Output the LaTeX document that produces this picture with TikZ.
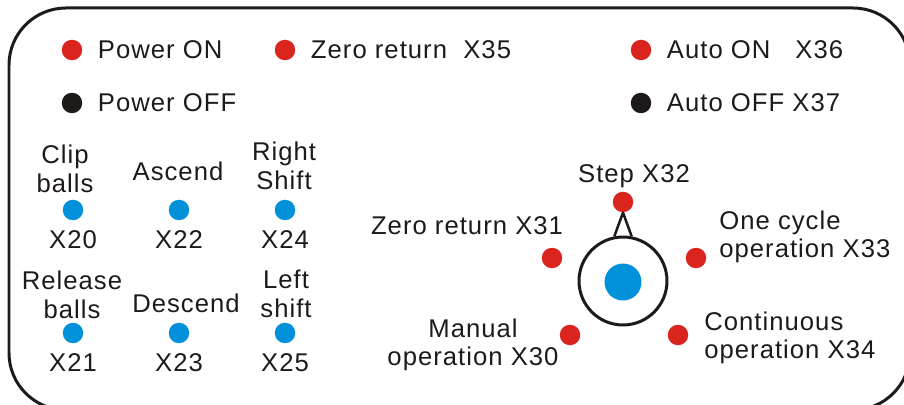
\documentclass[tikz,border=0pt]{standalone}
\usepackage{fontspec}
\setmainfont{Liberation Sans}[LetterSpace=4]
\usepackage{tikz}
\usetikzlibrary{positioning}
\definecolor{ledred}{RGB}{218,37,31}
\definecolor{ledblue}{RGB}{0,145,218}
\definecolor{ledblack}{RGB}{30,26,26}

\begin{document}
\begin{tikzpicture}[x=0.02cm, y=-0.02cm, node distance=3mm,
  lbl/.style={inner sep=0pt, align=center, text=ledblack, font=\fontsize{14.6pt}{16.2pt}\selectfont},
  lamp/.style={circle, inner sep=0pt, minimum size=4.1mm},
  redlamp/.style={lamp, fill=ledred},
  offlamp/.style={lamp, fill=ledblack},
  bluekey/.style={lamp, fill=ledblue},
  frame/.style={draw=ledblack, line width=0.6mm, rounded corners=11.4mm}]
  \useasboundingbox (0,0) rectangle (904,405);
  \clip (0,0) rectangle (904,405);
  \draw[frame] (9,8) rectangle (910,410);

  \node[redlamp] (pwron) at (72,50) {};
  \node[lbl, right=of pwron] (pwronl) {Power ON};
  \node[offlamp] (pwroff) at (72,103) {};
  \node[lbl, right=of pwroff] (pwroffl) {Power OFF};
  \node[redlamp] (zret) at (285,50) {};
  \node[lbl, right=of zret] (zretl) {Zero return\ \ X35};
  \node[redlamp] (auton) at (641,50) {};
  \node[lbl, right=of auton] (autonl) {Auto ON\hspace{5mm}X36};
  \node[offlamp] (autoff) at (641,103) {};
  \node[lbl, right=of autoff] (autoffl) {Auto OFF X37};

  \node[bluekey] (k20) at (73,210) {};
  \node[lbl, below=2mm of k20] (k20l) {X20};
  \node[bluekey] (k22) at (179,210) {};
  \node[lbl, below=2mm of k22] (k22l) {X22};
  \node[bluekey] (k24) at (285,210) {};
  \node[lbl, below=2mm of k24] (k24l) {X24};
  \node[bluekey] (k21) at (73,333) {};
  \node[lbl, below=2mm of k21] (k21l) {X21};
  \node[bluekey] (k23) at (179,333) {};
  \node[lbl, below=2mm of k23] (k23l) {X23};
  \node[bluekey] (k25) at (285,333) {};
  \node[lbl, below=2mm of k25] (k25l) {X25};
  \node[lbl] (clip) at (65,169) {Clip\\balls};
  \node[lbl, anchor=base] (asc) at (178,181) {Ascend};
  \node[lbl] (rsh) at (284,166) {Right\\Shift};
  \node[lbl] (rel) at (72,295) {Release\\balls};
  \node[lbl, anchor=base] (desc) at (186,313) {Descend};
  \node[lbl] (lsh) at (286,294) {Left\\shift};

  \node[circle, draw=ledblack, line width=0.6mm, minimum size=17.6mm, inner sep=0pt] (sel) at (623,281) {};
  \node[circle, fill=ledblue, minimum size=7.4mm, inner sep=0pt] (knob) at (623,282) {};
  \node[redlamp] (s32) at (623,202) {};
  \draw[line width=0.5mm, line join=round, ledblack] (sel.101) -- (s32.south) -- (sel.79);
  \node[redlamp] (s31) at (552,258) {};
  \node[redlamp] (s33) at (696,258) {};
  \node[redlamp] (s30) at (570,335) {};
  \node[redlamp] (s34) at (678,335) {};
  \node[lbl, anchor=base] (s32l) at (634,183) {Step X32};
  \node[lbl, anchor=base] (s31l) at (467,235) {Zero return X31};
  \node[lbl, anchor=west, align=left] (s33l) at (719,237) {One cycle\\operation X33};
  \node[lbl, anchor=west, align=left] (s34l) at (704,338) {Continuous\\operation X34};
  \node[lbl] (s30l) at (473,345) {Manual\\operation X30};
\end{tikzpicture}
\end{document}
